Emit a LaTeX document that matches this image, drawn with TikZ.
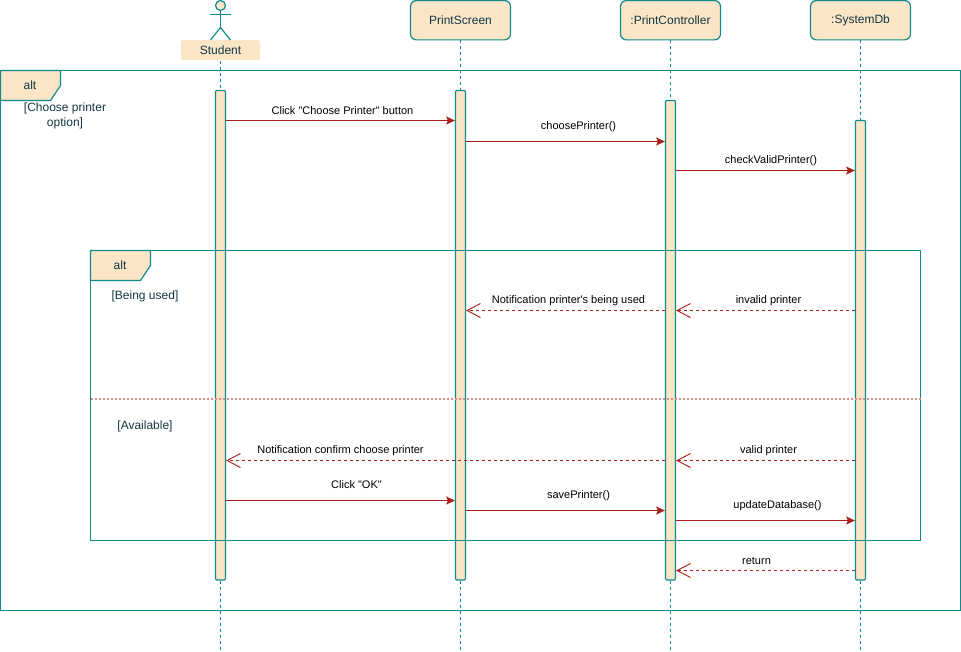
\documentclass[tikz,border=0pt]{standalone}
\usepackage{fontspec}
\setmainfont{Liberation Sans}
\newfontfamily\plainsans{Liberation Sans}
\usetikzlibrary{arrows.meta}
\definecolor{teal1}{HTML}{0F8B8D}
\definecolor{peach}{HTML}{FAE5C7}
\definecolor{brick}{HTML}{A8201A}
\definecolor{ink}{HTML}{143642}
\tikzset{
	head/.style = {draw = teal1, fill = peach, rounded corners = 4.5pt, line width = .9pt, minimum width = 75pt, minimum height = 29.5pt, inner sep = 0, text = ink, font = \fontsize{9}{11}\selectfont},
	bar/.style = {draw = teal1, fill = peach, rounded corners = .8pt, line width = .9pt, minimum width = 7.5pt, inner sep = 0},
	life/.style = {draw = teal1, line width = .85pt, dash pattern = on 2.25pt off 2.25pt},
	frame/.style = {draw = teal1, line width = .9pt},
	call/.style = {draw = brick, line width = .9pt, -{Stealth[length = 6.5pt, width = 6pt, inset = 1.2pt]}},
	back/.style = {draw = brick, line width = .85pt, dash pattern = on 2.25pt off 2.25pt, -{Straight Barb[length = 10pt, width = 10.5pt, line width = .7pt]}},
	lab/.style = {text = black, inner sep = 0, font = \plainsans\fontsize{8.25}{10}\selectfont},
	note/.style = {text = ink, inner sep = 0, align = center, font = \fontsize{9}{11.2}\selectfont}
}
\begin{document}
\begin{tikzpicture}[x = .75pt, y = -.75pt]
	\useasboundingbox (0,0) rectangle (961,651);
	\node [head, draw = none, rounded corners = 2pt, minimum width = 59.5pt, minimum height = 15pt] (student) at (220.5,50) {Student};
	\node [head] (screen) at (460.5,20.2) {PrintScreen};
	\node [head] (control) at (670.5,20.2) {:PrintController};
	\node [head] (db) at (860.5,20.2) {:SystemDb};
	\draw [teal1, fill = peach, line width = .9pt] (220.5,5.5) circle [radius = 5];
	\draw [teal1, line width = .9pt] (220.5,10.5) -- (220.5,27.5);
	\draw [teal1, line width = .9pt] (210,14.5) -- (231,14.5);
	\draw [teal1, line width = .9pt] (210.5,40) -- (220.5,27.5) -- (230.5,40);
	\node [bar, minimum height = 367.1pt] (barstudent) at (220.5,335.2) {};
	\node [bar, minimum height = 367.1pt] (barscreen) at (460.5,335.2) {};
	\node [bar, minimum height = 359.6pt] (barcontrol) at (670.5,340.2) {};
	\node [bar, minimum height = 344.6pt] (bardb) at (860.5,350.2) {};
	\coordinate (endstudent) at (220.5,650);
	\coordinate (endscreen) at (460.5,650);
	\coordinate (endcontrol) at (670.5,650);
	\coordinate (enddb) at (860.5,650);
	\draw [life] (student) -- (barstudent);
	\draw [life] (screen) -- (barscreen);
	\draw [life] (control) -- (barcontrol);
	\draw [life] (db) -- (bardb);
	\draw [life] (barstudent) -- (endstudent);
	\draw [life] (barscreen) -- (endscreen);
	\draw [life] (barcontrol) -- (endcontrol);
	\draw [life] (bardb) -- (enddb);
	\draw [frame] (.5,70.5) rectangle (960.5,610.5);
	\draw [frame, fill = peach] (.5,70.5) -- (60.5,70.5) -- (60.5,85.5) -- (50.5,100.5) -- (.5,100.5) -- cycle;
	\node [note] (altouter) at (30,85.5) {alt};
	\node [note] (choose) at (65,116) {[Choose printer\\option]};
	\draw [frame] (90.5,250.5) rectangle (920.5,540.5);
	\draw [frame, fill = peach] (90.5,250.5) -- (150.5,250.5) -- (150.5,265.5) -- (140.5,280.5) -- (90.5,280.5) -- cycle;
	\node [note] (altinner) at (120,265.5) {alt};
	\node [note] (used) at (145,296) {[Being used]};
	\node [note] (free) at (145,426) {[Available]};
	\draw [brick!50, line width = 1.1pt, dash pattern = on 1.5pt off 1.5pt] (90.5,399) -- (920.5,399);
	\coordinate (m1) at (0,120.5);
	\coordinate (m2) at (0,141.5);
	\coordinate (m3) at (0,170.5);
	\coordinate (m4) at (0,310.5);
	\coordinate (m5) at (0,460.5);
	\coordinate (m6) at (0,500.5);
	\coordinate (m7) at (0,510.5);
	\coordinate (m8) at (0,520.5);
	\coordinate (m9) at (0,570.5);
	\draw [call] (barstudent.east |- m1) -- (barscreen.west |- m1);
	\draw [call] (barscreen.east |- m2) -- (barcontrol.west |- m2);
	\draw [call] (barcontrol.east |- m3) -- (bardb.west |- m3);
	\draw [back] (bardb.west |- m4) -- (barcontrol.east |- m4);
	\draw [back] (barcontrol.west |- m4) -- (barscreen.east |- m4);
	\draw [back] (bardb.west |- m5) -- (barcontrol.east |- m5);
	\draw [back] (barcontrol.west |- m5) -- (barstudent.east |- m5);
	\draw [call] (barstudent.east |- m6) -- (barscreen.west |- m6);
	\draw [call] (barscreen.east |- m7) -- (barcontrol.west |- m7);
	\draw [call] (barcontrol.east |- m8) -- (bardb.west |- m8);
	\draw [back] (bardb.west |- m9) -- (barcontrol.east |- m9);
	\node [lab] (l1) at (342.5,110.5) {Click "Choose Printer" button};
	\node [lab] (l2) at (578.5,127) {choosePrinter()};
	\node [lab] (l3) at (771,161) {checkValidPrinter()};
	\node [lab] (l4) at (768.5,301) {invalid printer};
	\node [lab] (l5) at (568.5,301) {Notification printer's being used};
	\node [lab] (l6) at (768.5,451) {valid printer};
	\node [lab] (l7) at (340.5,451) {Notification confirm choose printer};
	\node [lab] (l8) at (356.5,485) {Click "OK"};
	\node [lab] (l9) at (578.5,496) {savePrinter()};
	\node [lab] (l10) at (777.5,506) {updateDatabase()};
	\node [lab] (l11) at (756.5,561) {return};
\end{tikzpicture}
\end{document}
